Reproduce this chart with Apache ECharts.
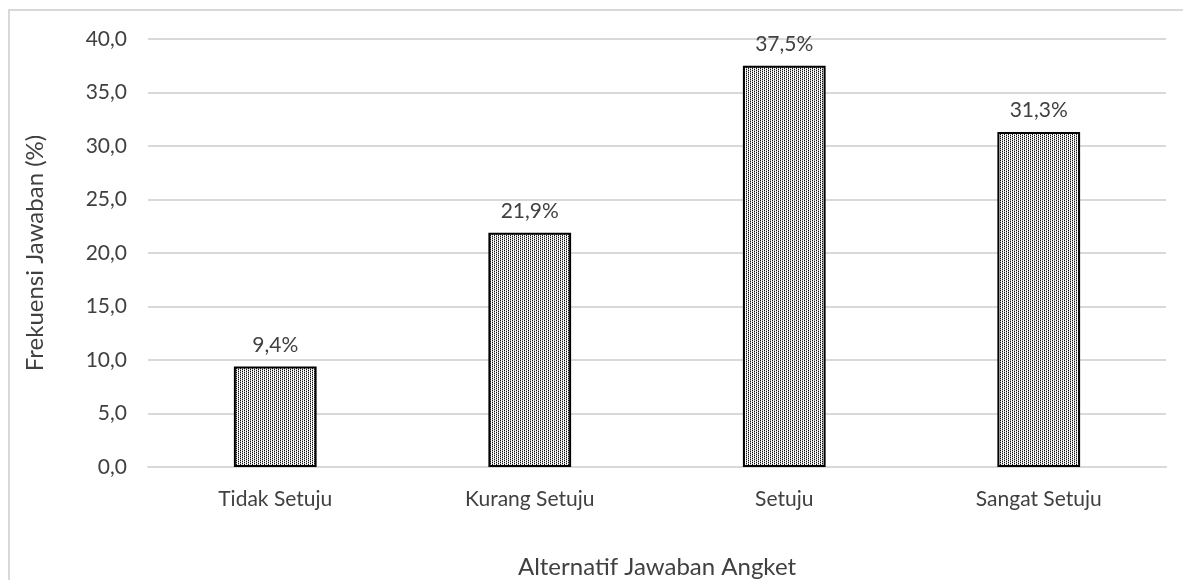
<!DOCTYPE html>
<html>
<head>
<meta charset="utf-8">
<script src="https://cdn.jsdelivr.net/npm/echarts@6/dist/echarts.min.js"></script>
<style>
  html, body { margin: 0; padding: 0; background: #fff; }
  #chart { width: 1183px; height: 580px; }
</style>
</head>
<body>
<div id="chart"></div>
<script>
// Response categories and their share of answers (%)
const categories = ['Tidak Setuju', 'Kurang Setuju', 'Setuju', 'Sangat Setuju'];
const frequencies = [9.4, 21.9, 37.5, 31.3];
const yTicks = [0, 5, 10, 15, 20, 25, 30, 35, 40];

const xTitle = 'Alternatif Jawaban Angket';
const yTitle = 'Frekuensi Jawaban (%)';

const fmt = v => v.toFixed(1).replace('.', ',');

// Small dotted tile used to fill the bars (dark dot columns separated by light gaps)
function dotTile() {
  const c = document.createElement('canvas');
  c.width = 4; c.height = 4;
  const g = c.getContext('2d');
  g.fillStyle = '#ffffff';
  g.fillRect(0, 0, 4, 4);
  g.fillStyle = '#111111';
  [[0,0],[0,2],[2,1],[2,3]].forEach(([x, y]) => g.fillRect(x, y, 1, 1));
  g.fillStyle = '#a8a8a8';
  [[0,1],[0,3],[2,0],[2,2]].forEach(([x, y]) => g.fillRect(x, y, 1, 1));
  return c;
}

const chart = echarts.init(document.getElementById('chart'), null, { renderer: 'canvas' });
const font = "Lato, 'Open Sans', sans-serif";
const ink = '#404040';

chart.setOption({
  backgroundColor: '#ffffff',
  animation: false,
  textStyle: { fontFamily: font },
  graphic: [{
    type: 'rect',
    shape: { x: 9, y: 10, width: 1300, height: 700 },
    style: { fill: 'none', stroke: '#d9d9d9', lineWidth: 2 },
    silent: true, z: -1
  }],
  grid: { left: 148, right: 17, top: 39, bottom: 113, containLabel: false, outerBoundsMode: 'none' },
  xAxis: {
    type: 'category',
    data: categories,
    name: xTitle,
    nameLocation: 'middle',
    nameGap: 88,
    nameTextStyle: { fontSize: 24, color: ink, fontFamily: font },
    axisLine: { show: true, lineStyle: { color: '#d9d9d9', width: 2 } },
    axisTick: { show: false },
    axisLabel: { fontSize: 21, color: ink, margin: 22, fontFamily: font }
  },
  yAxis: {
    type: 'value',
    min: yTicks[0],
    max: yTicks[yTicks.length - 1],
    interval: yTicks[1] - yTicks[0],
    name: yTitle,
    nameLocation: 'middle',
    nameGap: 101,
    nameTextStyle: { fontSize: 24, color: ink, fontFamily: font },
    axisLine: { show: false },
    axisTick: { show: false },
    axisLabel: { fontSize: 21, color: ink, margin: 21, formatter: v => fmt(v), fontFamily: font },
    splitLine: { lineStyle: { color: '#d9d9d9', width: 2 } }
  },
  series: [{
    type: 'bar',
    data: frequencies,
    barWidth: '32.5%',
    itemStyle: {
      color: { image: dotTile(), repeat: 'repeat' },
      borderColor: '#000000',
      borderWidth: 2
    },
    label: {
      show: true,
      position: 'top',
      distance: 11,
      fontSize: 21,
      color: ink,
      fontFamily: font,
      formatter: p => fmt(p.value) + '%'
    }
  }]
});
</script>
</body>
</html>
